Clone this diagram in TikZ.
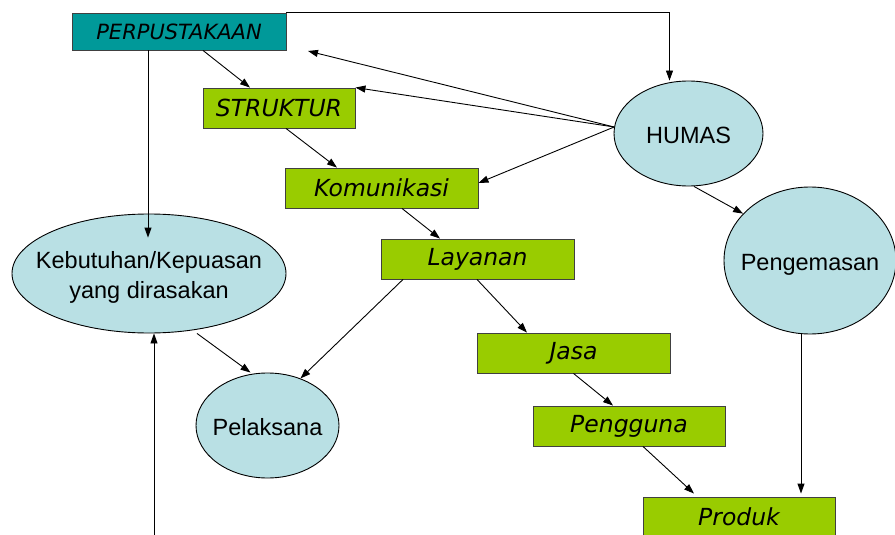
\documentclass[tikz,border=0pt]{standalone}
\usepackage{fontspec}
\setmainfont{Liberation Sans}
\newfontfamily\kotakfont{DejaVu Sans}
\usetikzlibrary{arrows.meta, shapes.geometric}
\definecolor{tosca}{RGB}{0,153,153}
\definecolor{hijau}{RGB}{153,204,0}
\definecolor{birumuda}{RGB}{185,224,228}
\newcommand{\isi}[1]{\raisebox{-4pt}[\height][\depth]{\makebox[0pt]{\begin{tabular}{@{}c@{}}#1\end{tabular}}}}

\begin{document}
\begin{tikzpicture}[x=1pt, y=1pt, line width=0.9pt,
    >={Triangle[length=10pt,width=7pt]},
    kotak/.style={draw=black!75, fill=hijau, minimum width=193pt, minimum height=40pt,
      inner sep=0pt, font=\kotakfont\itshape\fontsize{23.5}{28}\selectfont},
    elips/.style={ellipse, draw, fill=birumuda, inner sep=0pt,
      font=\fontsize{23.5}{30}\selectfont}]
  %tikz  Perpustakaan, humas
  \useasboundingbox (0,0) rectangle (895,-535);
  \node[kotak, fill=tosca, minimum width=214pt, minimum height=37pt,
    font=\kotakfont\itshape\fontsize{21}{25}\selectfont] (perp) at (179,-31.5) {PERPUSTAKAAN};
  \node[kotak, minimum width=152pt] (struktur) at (279,-108) {STRUKTUR};
  \node[kotak] (komunikasi) at (381.5,-188) {Komunikasi};
  \node[kotak] (layanan) at (477.5,-259) {Layanan};
  \node[kotak] (jasa) at (573.5,-353) {Jasa};
  \node[kotak, minimum width=192pt] (pengguna) at (629,-426) {Pengguna};
  \node[kotak, minimum width=192pt] (produk) at (739,-517) {Produk};

  \node[elips, minimum width=149pt, minimum height=105pt] (humas) at (688.5,-133.5) {\isi{HUMAS}};
  \node[elips, minimum width=172pt, minimum height=147pt] (pengemasan) at (810,-260.5) {\isi{Pengemasan}};
  \node[elips, minimum width=274pt, minimum height=119pt] (kebutuhan) at (149,-273.5)
    {\isi{Kebutuhan/Kepuasan\\yang dirasakan}};
  \node[elips, minimum width=143pt, minimum height=105pt] (pelaksana) at (267.5,-425.5) {\isi{Pelaksana}};

  \coordinate (ujung) at (308,-51);
  \coordinate (bawah) at (154,-540);

  \draw[->] (perp.north east) -| ([xshift=-19pt]humas.north);
  \draw[->] ([xshift=-31pt]perp.south) -- ([xshift=-1pt,yshift=-24pt]kebutuhan.north);
  \draw[->] ([xshift=24pt]perp.south) -- ([xshift=-29pt]struktur.north);
  \draw[->] ([xshift=7pt]struktur.south) -- ([xshift=-44.5pt]komunikasi.north);
  \draw[->] ([xshift=20.5pt]komunikasi.south) -- ([xshift=-37.5pt]layanan.north);
  \draw[->] ([xshift=-74.5pt]layanan.south) -- (pelaksana.55);
  \draw[->] ([xshift=-0.5pt]layanan.south) -- ([xshift=-46.5pt]jasa.north);
  \draw[->] (jasa.south) -- ([xshift=-16pt]pengguna.north);
  \draw[->] ([xshift=14pt]pengguna.south) -- ([xshift=-45pt,yshift=3pt]produk.north);
  \draw[->] ([xshift=-9pt]pengemasan.south) -- ([xshift=62pt,yshift=3pt]produk.north);
  \draw[->] ([xshift=5.5pt]humas.south) -- (pengemasan.145);
  \foreach \t in {([yshift=5pt]komunikasi.east), (struktur.north east), (ujung)}{
    \draw[->] (humas.175) -- \t;
  }
  \draw[->] ([xshift=48pt]kebutuhan.south) -- ([xshift=-17pt]pelaksana.north);
  \draw[->] (bawah) -- ([xshift=5pt]kebutuhan.south);
\end{tikzpicture}
\end{document}
